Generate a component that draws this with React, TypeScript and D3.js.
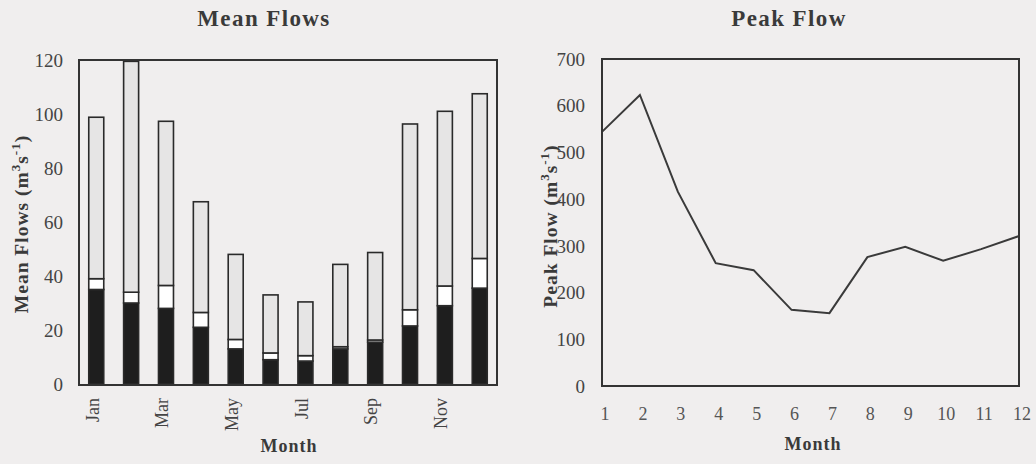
import React from "react";
import * as d3 from "d3";

const months = ["Jan","Feb","Mar","Apr","May","Jun","Jul","Aug","Sep","Oct","Nov","Dec"];
const shownMonths = ["Jan","Mar","May","Jul","Sep","Nov"];
const blackSeg = [35, 30, 28, 21, 13, 9, 8.5, 13, 15.5, 21.5, 29, 35.5];
const whiteSeg = [4, 4, 8.5, 5.5, 3.5, 2.5, 2, 0.8, 0.8, 6, 7.3, 11];
const graySeg = [59.8, 85.5, 60.8, 41, 31.5, 21.5, 19.9, 30.5, 32.4, 68.8, 64.7, 61];
const meanTicks = [0, 20, 40, 60, 80, 100, 120];

const monthNums = [1,2,3,4,5,6,7,8,9,10,11,12];
const peakFlow = [544, 623, 416, 263, 248, 163, 156, 276, 298, 268, 293, 321];
const peakTicks = [0, 100, 200, 300, 400, 500, 600, 700];

const BG = "#f0eeee";
const INK = "#333";
const FONT = "'Liberation Serif', 'Times New Roman', serif";

export default function App() {
  // Left panel
  const L = { x0: 79, x1: 497, y0: 60, y1: 384 };
  const xb = d3.scaleBand<string>().domain(months).range([L.x0, L.x1]).paddingInner(0.57).paddingOuter(0.28);
  const yl = d3.scaleLinear().domain([0, 120]).range([L.y1, L.y0]);
  const table = months.map((m, i) => ({ m, black: blackSeg[i], white: whiteSeg[i], gray: graySeg[i] }));
  const stack = d3.stack<any>().keys(["black", "white", "gray"])(table);
  const fills: Record<string, string> = { black: "#1e1e1e", white: "#ffffff", gray: "#e6e5e5" };

  // Right panel
  const R = { x0: 602, x1: 1019, y0: 59, y1: 386 };
  const xr = d3.scaleLinear().domain([1, 12]).range([R.x0, R.x1]);
  const yr = d3.scaleLinear().domain([0, 700]).range([R.y1, R.y0]);
  const line = d3.line<number>().x((_, i) => xr(monthNums[i])).y(d => yr(d));

  return (
    <svg width={1036} height={464} style={{ position: "absolute", left: 0, top: 0 }} fontFamily={FONT}>
      <rect x={0} y={0} width={1036} height={464} fill={BG} />

      {/* Left: titles */}
      <text x={264} y={26} textAnchor="middle" fontSize={23} fontWeight="bold" letterSpacing={1.4} fill="#3a3a3a">Mean Flows</text>
      <text transform={`translate(28,${224}) rotate(-90)`} textAnchor="middle" fontSize={19.5} fontWeight="bold" letterSpacing={1} fill="#3a3a3a">
        Mean Flows (m<tspan fontSize={13} dy={-8}>3</tspan><tspan dy={8}>s</tspan><tspan fontSize={13} dy={-8}>-1</tspan><tspan dy={8}>)</tspan>
      </text>
      <text x={289} y={452} textAnchor="middle" fontSize={18} fontWeight="bold" letterSpacing={1} fill="#3a3a3a">Month</text>

      {meanTicks.map(t => (
        <text key={t} x={63} y={yl(t)} dy="0.35em" textAnchor="end" fontSize={19} fill="#444">{t}</text>
      ))}
      {shownMonths.map(m => (
        <text key={m} transform={`translate(${(xb(m) as number) + xb.bandwidth() / 2 - 4},398) rotate(-90)`} dy="0.35em" textAnchor="end" fontSize={18} fill="#444">{m}</text>
      ))}

      {stack.map(layer => (
        <g key={layer.key}>
          {layer.map((d, i) => (
            <rect key={i} x={xb(months[i]) as number} width={xb.bandwidth()}
              y={yl(d[1])} height={Math.max(0, yl(d[0]) - yl(d[1]))}
              fill={fills[layer.key]} stroke="#2a2a2a" strokeWidth={1.6} />
          ))}
        </g>
      ))}
      <rect x={L.x0} y={L.y0} width={L.x1 - L.x0} height={L.y1 - L.y0 + 1} fill="none" stroke={INK} strokeWidth={2} />

      {/* Right panel */}
      <text x={789} y={26} textAnchor="middle" fontSize={23} fontWeight="bold" letterSpacing={1.4} fill="#3a3a3a">Peak Flow</text>
      <text transform={`translate(557,${226}) rotate(-90)`} textAnchor="middle" fontSize={19.5} fontWeight="bold" letterSpacing={1} fill="#3a3a3a">
        Peak Flow (m<tspan fontSize={13} dy={-8}>3</tspan><tspan dy={8}>s</tspan><tspan fontSize={13} dy={-8}>-1</tspan><tspan dy={8}>)</tspan>
      </text>
      <text x={813} y={450} textAnchor="middle" fontSize={18} fontWeight="bold" letterSpacing={1} fill="#3a3a3a">Month</text>

      {peakTicks.map(t => (
        <text key={t} x={585} y={yr(t)} dy="0.35em" textAnchor="end" fontSize={19} fill="#444">{t}</text>
      ))}
      {monthNums.map(m => (
        <text key={m} x={xr(m) + 3} y={420} textAnchor="middle" fontSize={18} fill="#555">{m}</text>
      ))}

      <path d={line(peakFlow) || ""} fill="none" stroke="#3a3a3a" strokeWidth={2} />
      <rect x={R.x0} y={R.y0} width={R.x1 - R.x0} height={R.y1 - R.y0} fill="none" stroke={INK} strokeWidth={2} />
    </svg>
  );
}
